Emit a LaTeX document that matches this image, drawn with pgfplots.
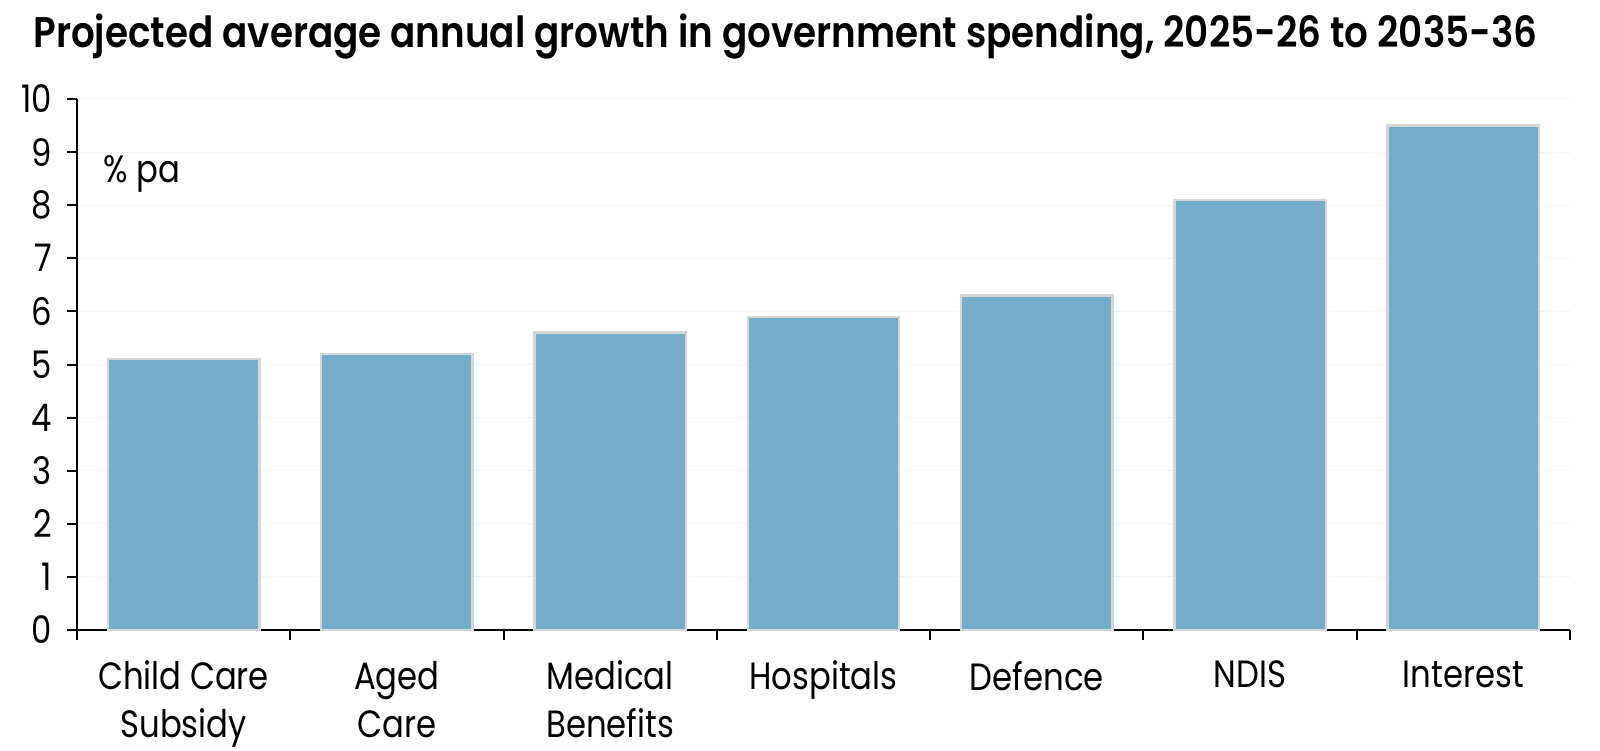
\documentclass[border=0pt]{standalone}
\usepackage{fontspec}
\setmainfont{Poppins}[FakeStretch=0.85]
\newfontfamily\titlefont{Poppins SemiBold}
\usepackage{graphicx}
\usepackage{pgfplots}
\pgfplotsset{compat=1.18}
\definecolor{barblue}{HTML}{74ACC9}
\definecolor{baredge}{HTML}{D6D6D6}
\definecolor{gridc}{HTML}{F2F2F2}
\begin{document}
\begin{tikzpicture}
\path[use as bounding box] (-38.5pt,-60pt) rectangle (761.5pt,315pt);
\begin{axis}[
  at={(0,0)}, anchor=south west,
  scale only axis, width=746.5pt, height=265.5pt,
  xmin=-0.5, xmax=6.5, ymin=0, ymax=10,
  ytick={0,1,...,10},
  xtick={-0.5,0.5,...,6.5},
  x tick label as interval,
  xticklabels={{Child Care\\Subsidy},{Aged\\Care},{Medical\\Benefits},{Hospitals},{Defence},{NDIS},{Interest}},
  xticklabel style={align=center, font=\fontsize{19}{24}\selectfont, yshift=-7pt},
  yticklabel style={font=\fontsize{19}{24}\selectfont, xshift=-4pt},
  /pgf/number format/assume math mode=true,
  axis lines*=left,
  axis line style={line width=1pt, black},
  tick align=outside,
  major tick length=5pt,
  tick style={black, line width=1pt},
  ymajorgrids,
  grid style={gridc, line width=0.5pt},
  clip=false,
]
\addplot[ybar, bar width=0.71, fill=barblue, draw=baredge, line width=1.2pt]
  coordinates {(0,5.1) (1,5.2) (2,5.6) (3,5.9) (4,6.3) (5,8.1) (6,9.5)};
\node[anchor=base west, font=\fontsize{19}{24}\selectfont, inner sep=0pt] at (rel axis cs:0.0174,0.842) {\% pa};
\end{axis}
\node[anchor=base west, inner sep=0pt] at (-22pt,291pt) {\resizebox{752pt}{16.8pt}{\titlefont Projected average annual growth in government spending, 2025-26 to 2035-36}};
\end{tikzpicture}
\end{document}
